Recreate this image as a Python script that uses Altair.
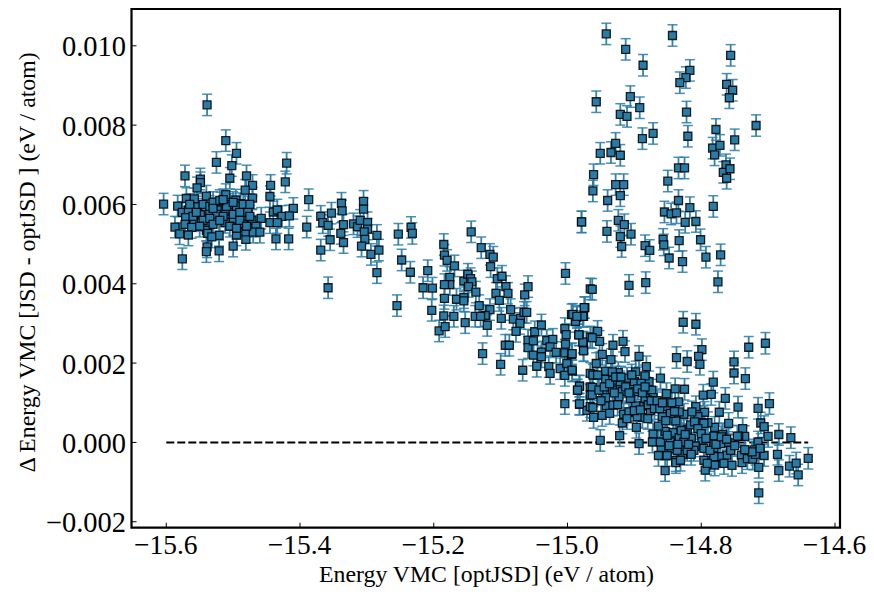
import altair as alt
import pandas as pd

# x (eV/atom), y*1e5 (eV/atom)
pts = [
(-15.604,601),(-15.539,851),(-15.511,761),(-15.495,729),(-15.525,706),(-15.502,698),(-15.505,666),(-15.572,672),(-15.549,664),(-15.549,655),
(-15.554,642),(-15.480,672),(-15.471,648),(-15.482,636),(-15.420,704),(-15.422,657),(-15.444,648),(-15.445,620),(-15.387,612),(-15.570,615),
(-15.558,614),(-15.540,621),(-15.511,625),(-15.496,611),(-15.471,616),(-15.519,604),(-15.583,596),(-15.576,580),(-15.567,586),(-15.553,594),
(-15.549,574),(-15.535,578),(-15.522,586),(-15.512,583),(-15.499,590),(-15.478,594),(-15.489,602),(-15.410,590),(-15.338,603),(-15.305,608),
(-15.337,584),(-15.305,588),(-15.440,581),(-15.434,586),(-15.427,570),(-15.416,571),(-15.458,565),(-15.472,560),(-15.484,567),(-15.500,563),
(-15.512,555),(-15.539,552),(-15.559,559),(-15.571,567),(-15.587,543),(-15.572,550),(-15.562,542),(-15.580,526),(-15.567,523),(-15.540,535),
(-15.538,527),(-15.521,522),(-15.532,518),(-15.485,551),(-15.466,545),(-15.445,554),(-15.434,554),(-15.390,543),(-15.369,570),(-15.353,578),
(-15.366,554),(-15.358,547),(-15.335,549),(-15.339,527),(-15.355,511),(-15.335,504),(-15.320,551),(-15.314,544),(-15.310,560),(-15.299,554),
(-15.299,538),(-15.304,531),(-15.303,512),(-15.308,495),(-15.294,474),(-15.369,485),(-15.358,390),(-15.576,463),(-15.539,493),(-15.540,481),
(-15.521,483),(-15.500,495),(-15.481,512),(-15.481,531),(-15.470,530),(-15.460,530),(-15.495,523),(-15.436,513),(-15.417,513),
(-15.565,600),(-15.545,600),(-15.535,595),(-15.530,605),(-15.525,575),(-15.515,570),(-15.505,600),(-15.500,575),(-15.495,595),(-15.490,580),
(-15.485,600),(-15.478,580),(-15.475,570),(-15.560,570),(-15.555,580),(-15.545,560),(-15.535,565),(-15.530,550),(-15.520,560),(-15.510,595),
(-15.505,545),(-15.495,540),(-15.490,560),(-15.480,545),(-15.475,600),(-15.550,545),(-15.530,590),(-15.520,610),(-15.515,612),(-15.500,605),
(-15.285,522),(-15.282,485),(-15.285,428),(-15.253,525),(-15.234,542),(-15.232,527),(-15.248,460),(-15.235,429),(-15.255,345),(-15.209,433),
(-15.216,390),(-15.202,389),(-15.203,333),(-15.192,281),(-15.185,319),(-15.183,292),(-15.184,363),(-15.185,499),(-15.184,472),(-15.180,459),
(-15.169,445),(-15.176,416),(-15.176,398),(-15.184,398),(-15.170,318),(-15.166,361),(-15.155,407),(-15.149,424),(-15.145,413),(-15.143,405),
(-15.148,393),(-15.155,365),(-15.155,357),(-15.137,379),(-15.132,345),(-15.153,302),(-15.144,531),(-15.129,491),(-15.116,474),(-15.111,467),
(-15.115,443),(-15.105,413),(-15.098,419),(-15.092,393),(-15.089,376),(-15.107,376),(-15.102,358),(-15.116,335),(-15.123,320),(-15.138,318),
(-15.130,318),(-15.120,295),(-15.127,224),(-15.100,197),(-15.099,313),(-15.085,335),(-15.081,311),(-15.070,313),(-15.071,300),(-15.077,280),
(-15.065,328),(-15.061,328),(-15.064,372),(-15.059,393),(-15.093,245),(-15.087,245),(-15.067,182),(-15.059,258),(-15.059,239),(-15.049,279),
(-15.039,296),(-15.051,256),(-15.051,220),(-15.039,228),(-15.039,216),(-15.046,192),(-15.031,257),(-15.022,260),(-15.026,241),(-15.017,227),
(-15.028,191),(-15.026,174),(-15.011,186),(-15.004,287),(-15.002,272),(-15.003,248),(-15.004,226),(-14.994,222),(-15.001,199),(-14.993,180),
(-15.004,169),(-15.004,98),(-14.982,96),(-14.985,132),(-14.982,142),(-14.994,322),(-14.986,315),(-14.988,305),(-14.976,318),(-14.974,340),
(-14.983,271),(-14.976,252),(-14.976,232),(-15.003,426),(-14.979,556),(-14.966,387),(-14.966,174),(-14.966,140),(-14.966,119),(-14.966,266),
(-14.971,81),(-14.966,90),
(-14.942,1030),(-14.913,991),(-14.843,1026),(-14.887,951),(-14.756,976),(-14.817,938),(-14.823,920),(-14.832,907),(-14.762,903),(-14.753,888),
(-14.758,869),(-14.957,859),(-14.906,872),(-14.921,827),(-14.911,822),(-14.892,844),(-14.822,833),(-14.718,799),(-14.872,779),(-14.888,766),
(-14.820,772),(-14.778,789),(-14.750,763),(-14.783,742),(-14.772,749),(-14.780,725),(-14.951,729),(-14.935,731),(-14.928,754),(-14.921,724),
(-14.961,675),(-14.962,634),(-14.928,650),(-14.916,650),(-14.921,622),(-14.940,610),(-14.850,659),(-14.834,692),(-14.825,692),(-14.763,700),
(-14.767,681),(-14.757,690),(-14.762,666),(-14.834,610),(-14.817,592),(-14.782,595),(-14.855,581),(-14.845,576),(-14.837,579),(-14.824,555),
(-14.808,557),(-14.979,556),(-14.941,532),(-14.924,560),(-14.915,549),(-14.905,525),(-14.921,519),(-14.919,494),(-14.884,496),(-14.877,484),
(-14.857,512),(-14.856,498),(-14.848,465),(-14.833,509),(-14.828,456),(-14.801,511),(-14.793,467),(-14.771,473),(-14.775,405),(-14.883,403),
(-14.908,396),(-14.963,386),(-14.975,340),(-14.977,318),(-14.992,323),(-14.986,318),
(-14.827,303),(-14.808,298),(-14.799,234),(-14.729,240),(-14.704,250),(-14.837,214),(-14.821,204),(-14.804,217),(-14.802,197),(-14.751,203),
(-14.751,175),(-14.734,161),(-14.782,152),(-14.797,119),(-14.785,121),(-14.764,111),(-14.698,98),(-14.715,86),(-14.745,89),(-14.773,76),
(-14.795,76),(-14.711,49),(-14.706,40),(-14.759,48),(-14.738,35),(-14.780,38),(-14.684,20),(-14.666,12),(-14.700,15),(-14.735,15),
(-14.744,15),(-14.768,20),(-14.715,1),(-14.760,0),(-14.781,16),(-14.799,6),(-14.815,10),(-14.821,33),(-14.808,90),(-14.826,71),
(-14.805,65),(-14.790,50),(-14.801,50),(-14.838,54),(-14.842,25),(-14.854,28),(-14.864,41),(-14.858,65),(-14.852,90),(-14.834,102),
(-14.825,134),(-14.839,135),(-14.852,123),(-14.861,162),(-14.874,132),(-14.872,113),(-14.878,153),(-14.884,168),(-14.882,191),(-14.893,217),
(-14.898,178),(-14.911,162),(-14.924,176),(-14.943,180),(-14.957,199),(-14.935,209),(-14.932,245),(-14.917,255),(-14.914,229),(-14.948,222),
(-14.952,255),(-14.955,280),(-14.976,231),(-14.977,253),(-14.983,271),(-14.963,264),(-14.993,224),(-14.993,182),(-14.962,170),(-14.943,159),
(-14.963,139),(-14.963,120),(-14.947,131),(-14.932,157),(-14.918,128),(-14.899,128),(-14.886,92),(-14.898,92),(-14.916,71),(-14.908,77),
(-14.942,92),(-14.932,94),(-14.962,88),(-14.961,63),(-14.948,68),(-14.937,73),(-14.982,97),(-14.982,142),(-14.985,132),(-14.918,49),
(-14.897,38),(-14.888,63),(-14.880,60),(-14.872,21),(-14.873,1),(-14.922,17),(-14.951,5),(-14.893,-3),(-14.860,-14),(-14.845,-16),
(-14.830,-16),(-14.809,-9),(-14.864,-33),(-14.851,-33),(-14.828,-30),(-14.838,-46),(-14.838,-51),(-14.854,-71),(-14.796,-15),(-14.781,-14),
(-14.771,-3),(-14.762,-32),(-14.773,-36),(-14.787,-46),(-14.780,-57),(-14.766,-53),(-14.794,-70),(-14.754,-58),(-14.740,-32),(-14.739,-51),
(-14.731,-41),(-14.723,-42),(-14.721,-19),(-14.719,-30),(-14.706,-33),(-14.714,-63),(-14.714,-127),(-14.686,-30),(-14.684,-71),(-14.668,-60),
(-14.658,-52),(-14.655,-82),(-14.640,-40),
(-14.833,12),(-14.846,1),(-14.826,1),(-14.816,44),(-14.814,77),(-14.846,73),(-14.833,77),(-14.876,81),(-14.896,65),(-14.911,60),
(-14.881,107),(-14.906,111),(-14.923,115),(-14.933,132),(-14.943,113),(-14.953,132),(-14.900,153),(-14.890,149),(-14.921,153),(-14.933,178),
(-14.796,48),(-14.781,-3),(-14.756,-20),(-14.796,-45),(-14.781,-36),(-14.811,-20),(-14.821,-20),(-14.861,1),(-14.851,18),(-14.836,-20),
(-14.831,-45),(-14.884,111),(-14.746,16),(-14.724,-24),(-14.791,-53),
(-14.955,170),(-14.950,105),(-14.945,140),(-14.937,148),(-14.930,125),(-14.928,165),(-14.925,95),(-14.920,165),(-14.913,140),(-14.908,125),
(-14.904,170),(-14.900,80),(-14.895,135),(-14.891,82),(-14.888,125),(-14.884,140),(-14.879,95),(-14.875,105),(-14.870,85),(-14.866,105),
(-14.862,85),(-14.858,100),(-14.853,55),(-14.848,-8),(-14.844,100),(-14.840,78),(-14.835,-5),(-14.830,30),(-14.824,20),(-14.819,-5),
(-14.815,-30),(-14.810,52),(-14.805,35),(-14.800,22),(-14.793,10),(-14.787,-20),(-14.778,-5),(-14.770,14),(-14.762,8),(-14.750,-8),
(-14.735,-18),(-14.712,-15),
]
y_err = 0.00027
zero_x = [-15.6, -14.64]
zero_y = [0.0, 0.0]
x_ticks = [-15.6, -15.4, -15.2, -15.0, -14.8, -14.6]
y_ticks = [-0.002, 0.0, 0.002, 0.004, 0.006, 0.008, 0.010]
x_title = "Energy VMC [optJSD] (eV / atom)"
y_title = "Δ Energy VMC [JSD - optJSD ] (eV / atom)"

W, H = 708.5, 518.7
FONT = "Liberation Serif"
BLUE = "#2a7ca8"

df = pd.DataFrame(pts, columns=["x", "y5"])
df["y"] = df["y5"] * 1e-5
df["lo"] = df["y"] - y_err
df["hi"] = df["y"] + y_err

xs = alt.Scale(domain=[-15.652, -14.5925], nice=False, zero=False)
ys = alt.Scale(domain=[-0.00215, 0.010928], nice=False, zero=False)

xax = alt.Axis(values=x_ticks, format=".1f", title=x_title, grid=False, ticks=False, domain=False,
               labelFont=FONT, labelFontSize=27.5, labelColor="black", labelPadding=4, labelFlush=False, labelOffset=-1,
               titleFont=FONT, titleFontSize=23.8, titleFontWeight="normal", titleColor="black",
               titleX=354.5, titleY=47, titleBaseline="middle", labelOverlap=False)
yax = alt.Axis(values=y_ticks, format=".3f", title=y_title, grid=False, ticks=False, domain=False,
               labelFont=FONT, labelFontSize=28.5, labelColor="black", labelPadding=6, labelOffset=1,
               titleFont=FONT, titleFontSize=23.8, titleFontWeight="normal", titleColor="black",
               titleX=-104.5, titleY=253, titleBaseline="middle", labelOverlap=False)

X = alt.X("x:Q", scale=xs, axis=xax)
Y = alt.Y("y:Q", scale=ys, axis=yax)
YLO = alt.Y("lo:Q", scale=ys, axis=yax)
YHI = alt.Y("hi:Q", scale=ys, axis=yax)

base = alt.Chart(df)
zero = alt.Chart(pd.DataFrame({"x": zero_x, "y": zero_y})).mark_line(
    color="black", strokeWidth=2, strokeDash=[8, 3]).encode(x=X, y=Y)
bars = base.mark_rule(color=BLUE, strokeWidth=1.8, opacity=0.95).encode(x=X, y=YLO, y2="hi:Q")
cap_lo = base.mark_tick(color=BLUE, size=10, thickness=1.5, opacity=0.85, orient="horizontal").encode(x=X, y=YLO)
cap_hi = base.mark_tick(color=BLUE, size=10, thickness=1.5, opacity=0.85, orient="horizontal").encode(x=X, y=YHI)
squares = base.mark_square(size=64, fill="#2a7ca8", fillOpacity=1, stroke="black", strokeWidth=1.3, strokeOpacity=0.85).encode(x=X, y=Y)

xt = alt.Chart(pd.DataFrame({"x": x_ticks})).mark_rule(color="black", strokeWidth=1).encode(
    x=X, y=alt.value(H - 5), y2=alt.value(H))
yt = alt.Chart(pd.DataFrame({"y": y_ticks})).mark_rule(color="black", strokeWidth=1).encode(
    y=Y, x=alt.value(0), x2=alt.value(5))

chart = alt.layer(zero, bars, cap_lo, cap_hi, squares, xt, yt).properties(
    width=W, height=H, autosize="none",
    padding={"left": 123.5, "top": 1, "right": 26, "bottom": 59},
    background="white",
).configure_view(stroke="black", strokeWidth=2.2)

chart.save("out.html", embed_options={"renderer": "svg", "actions": False})
